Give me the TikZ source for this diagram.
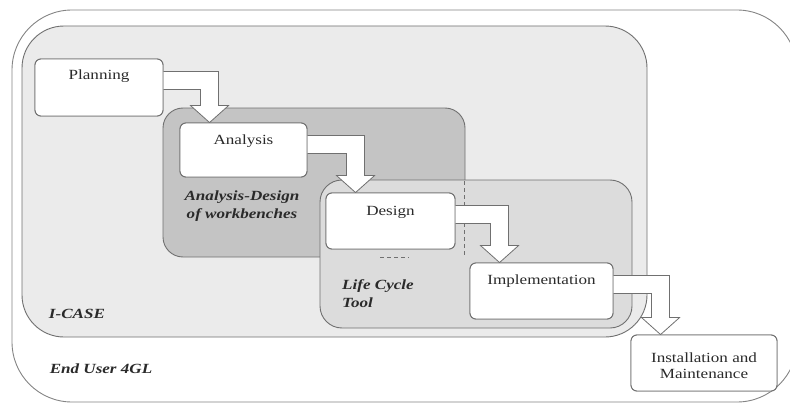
\documentclass[tikz,border=0pt]{standalone}
\usepackage{fontspec}
\setmainfont{Liberation Serif}[FakeStretch=1.22]
\usetikzlibrary{calc}
\definecolor{bordc}{HTML}{707070}
\definecolor{icasec}{HTML}{EBEBEB}
\definecolor{adc}{HTML}{C4C4C4}
\definecolor{lctc}{HTML}{DCDCDC}
\definecolor{txtc}{HTML}{2A2A2A}
\tikzset{
  container/.style={draw=bordc, line width=0.9pt},
  stagebox/.style={draw=bordc, fill=white, line width=0.9pt, rounded corners=6pt, inner sep=0pt},
  stagetext/.style={text=txtc, font=\fontsize{14}{16}\selectfont, inner sep=0pt, anchor=base},
  grouplabel/.style={text=txtc, font=\fontsize{14}{18}\selectfont\bfseries\itshape, inner sep=0pt},
  arrowline/.style={draw=bordc, line width=0.8pt, line join=miter},
  overlapdash/.style={draw=bordc, line width=0.8pt, dash pattern=on 4pt off 3pt}
}
\newcommand\bentarrow[2]{%
  \fill[white] let \p1=(#1.north east), \p2=(#2.north west) in
    (\x1,{\y1-13pt}) -- ({\x2+39pt},{\y1-13pt}) -- ({\x2+39pt},{\y2+17pt}) -- ({\x2+49pt},{\y2+17pt})
    -- ({\x2+30pt},\y2) -- ({\x2+11pt},{\y2+17pt}) -- ({\x2+21pt},{\y2+17pt}) -- ({\x2+21pt},{\y1-31pt})
    -- (\x1,{\y1-31pt}) -- cycle;
  \draw[arrowline] let \p1=(#1.north east), \p2=(#2.north west) in
    (\x1,{\y1-13pt}) -- ({\x2+39pt},{\y1-13pt}) -- ({\x2+39pt},{\y2+17pt}) -- ({\x2+49pt},{\y2+17pt})
    -- ({\x2+30pt},\y2) -- ({\x2+11pt},{\y2+17pt}) -- ({\x2+21pt},{\y2+17pt}) -- ({\x2+21pt},{\y1-31pt})
    -- (\x1,{\y1-31pt});
}
\begin{document}
\begin{tikzpicture}[x=1pt,y=-1pt]
\useasboundingbox (0,0) rectangle (790,404);
\fill[white] (0,0) rectangle (790,404);
\clip (0,0) rectangle (790,404);
% containers
\draw[container, fill=white, draw=bordc!85, rounded corners=60pt] (12,10) rectangle (797,402);
\draw[container, fill=icasec, rounded corners=42pt] (22,26) rectangle (647,337);
\draw[container, fill=adc, rounded corners=20pt] (163,108) rectangle (465,257);
\draw[container, fill=lctc, rounded corners=22pt] (320,180) rectangle (632,328);
\draw[overlapdash] (464,181) -- (464,256);
\draw[overlapdash] (380,257) -- (409,257);
% group labels
\node[grouplabel, align=center] (adlabel) at (242,206) {Analysis-Design\\of workbenches};
\node[grouplabel, align=left, anchor=north west] (lctlabel) at (342,279) {Life Cycle\\Tool};
\node[grouplabel] (icaselabel) at (77,314) {I-CASE};
\node[grouplabel] (eulabel) at (101,369) {End User 4GL};
% stage boxes (shapes first, arrows, then boxes on top)
\node[stagebox, minimum width=128pt, minimum height=57pt] (plan) at (99,87.5) {};
\node[stagebox, minimum width=127pt, minimum height=54pt] (anal) at (243.5,150) {};
\node[stagebox, minimum width=129pt, minimum height=56pt] (design) at (390.5,221) {};
\node[stagebox, minimum width=143pt, minimum height=56pt] (impl) at (541.5,291) {};
\node[stagebox, minimum width=146pt, minimum height=56pt] (inst) at (704,363) {};
\bentarrow{plan}{anal}
\bentarrow{anal}{design}
\bentarrow{design}{impl}
\bentarrow{impl}{inst}
\node[stagebox, minimum width=128pt, minimum height=57pt] (planb) at (plan) {};
\node[stagebox, minimum width=127pt, minimum height=54pt] (analb) at (anal) {};
\node[stagebox, minimum width=129pt, minimum height=56pt] (designb) at (design) {};
\node[stagebox, minimum width=143pt, minimum height=56pt] (implb) at (impl) {};
\node[stagebox, minimum width=146pt, minimum height=56pt] (instb) at (inst) {};
\node[stagetext] (plant) at ([yshift=-21pt]planb.north) {Planning};
\node[stagetext] (analt) at ([yshift=-22pt]analb.north) {Analysis};
\node[stagetext] (designt) at ([yshift=-23pt]designb.north) {Design};
\node[stagetext] (implt) at ([yshift=-22pt]implb.north) {Implementation};
\node[stagetext, anchor=center, align=center, font=\fontsize{14}{16}\selectfont] (instt) at ([yshift=-3pt]instb.center) {Installation and\\Maintenance};
\end{tikzpicture}
\end{document}
